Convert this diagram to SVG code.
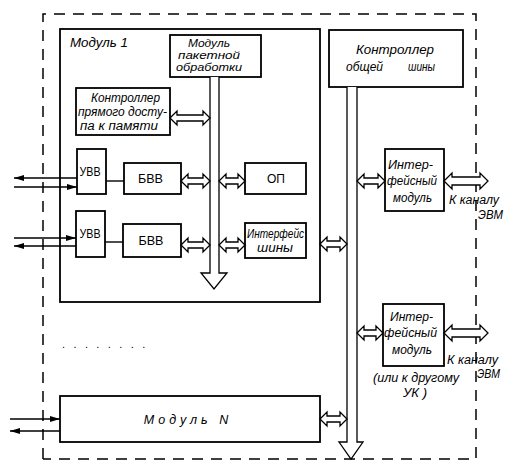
<svg xmlns="http://www.w3.org/2000/svg" width="514" height="468" viewBox="0 0 514 468">
<defs>
<marker id="ah" viewBox="0 0 10 6" refX="10" refY="3" markerWidth="10" markerHeight="6" markerUnits="userSpaceOnUse" orient="auto"><path d="M0,0 L10,3 L0,6 Z" fill="#000"/></marker>
<style>
.b{fill:#fff;stroke:#000;stroke-width:1.8}
.d{fill:#fff;stroke:#000;stroke-width:1.3;stroke-linejoin:miter}
.l{fill:none;stroke:#000;stroke-width:1.4}
.t{font-family:"Liberation Sans","DejaVu Sans",sans-serif;font-style:italic;font-size:12.5px;fill:#000;text-anchor:middle}
.s{font-size:10.5px}
.m{font-size:12px}
.u{font-family:"Liberation Sans","DejaVu Sans",sans-serif;font-size:12px;fill:#000;text-anchor:middle}
</style>
</defs>
<rect width="514" height="468" fill="#fff"/>
<g id="outer">
<path d="M43,459 L43,14 L476,14 L476,459 L43,459" fill="none" stroke="#000" stroke-width="1.5" stroke-dasharray="11,8"/>
</g>
<g id="module1">
<rect class="b" x="60" y="29" width="260" height="273"/>
<text class="t" x="99" y="47" textLength="58" lengthAdjust="spacingAndGlyphs">Модуль 1</text>
</g>
<g id="packet">
<rect class="b" x="170" y="35" width="91" height="42"/>
<text class="t s" x="209" y="47" textLength="42" lengthAdjust="spacingAndGlyphs">Модуль</text>
<text class="t s" x="209" y="59" textLength="62" lengthAdjust="spacingAndGlyphs">пакетной</text>
<text class="t s" x="209" y="71" textLength="66" lengthAdjust="spacingAndGlyphs">обработки</text>
</g>
<g id="dma">
<rect class="b" x="76" y="88" width="94" height="47"/>
<text class="t m" x="125.5" y="101.5" textLength="69" lengthAdjust="spacingAndGlyphs">Контроллер</text>
<text class="t m" x="122.5" y="116" textLength="89" lengthAdjust="spacingAndGlyphs">прямого досту-</text>
<text class="t m" x="119" y="130" textLength="78" lengthAdjust="spacingAndGlyphs">па к памяти</text>
</g>
<g id="uvv1"><rect class="b" x="77" y="149" width="29" height="45"/><text class="u" x="90" y="176" textLength="21" lengthAdjust="spacingAndGlyphs">УВВ</text></g>
<g id="bvv1"><rect class="b" x="124" y="163" width="57" height="31"/><text class="u" x="150.5" y="183" textLength="25" lengthAdjust="spacingAndGlyphs">БВВ</text></g>
<g id="op"><rect class="b" x="245" y="163" width="61" height="31"/><text class="u" x="276" y="183" textLength="18" lengthAdjust="spacingAndGlyphs">ОП</text></g>
<g id="uvv2"><rect class="b" x="76" y="211" width="29" height="46"/><text class="u" x="90" y="238" textLength="21" lengthAdjust="spacingAndGlyphs">УВВ</text></g>
<g id="bvv2"><rect class="b" x="123" y="224" width="58" height="33"/><text class="u" x="151" y="245" textLength="25" lengthAdjust="spacingAndGlyphs">БВВ</text></g>
<g id="busif"><rect class="b" x="245" y="223" width="61" height="35"/>
<text class="t m" x="275.5" y="237.5" textLength="57" lengthAdjust="spacingAndGlyphs">Интерфейс</text><text class="t m" x="275" y="252" textLength="36" lengthAdjust="spacingAndGlyphs">шины</text></g>
<g id="bus-ctrl">
<rect class="b" x="329" y="30" width="134" height="57"/>
<text class="t" x="395" y="54" textLength="78" lengthAdjust="spacingAndGlyphs">Контроллер</text>
<text class="t" x="364.5" y="71" textLength="37" lengthAdjust="spacingAndGlyphs">общей</text><text class="t" x="421.5" y="71" textLength="27" lengthAdjust="spacingAndGlyphs">шины</text>
</g>
<g id="if1">
<rect class="b" x="385" y="149" width="59" height="62"/>
<text class="t" x="410.5" y="169" textLength="45" lengthAdjust="spacingAndGlyphs">Интер-</text>
<text class="t" x="412" y="185" textLength="50" lengthAdjust="spacingAndGlyphs">фейсный</text>
<text class="t" x="412.5" y="202" textLength="39" lengthAdjust="spacingAndGlyphs">модуль</text>
</g>
<g id="if2">
<rect class="b" x="383" y="304" width="61" height="62"/>
<text class="t" x="411.5" y="321" textLength="43" lengthAdjust="spacingAndGlyphs">Интер-</text>
<text class="t" x="410.5" y="337" textLength="53" lengthAdjust="spacingAndGlyphs">фейсный</text>
<text class="t" x="412" y="354" textLength="40" lengthAdjust="spacingAndGlyphs">модуль</text>
</g>
<g id="moduleN">
<rect class="b" x="60" y="396" width="260" height="46"/>
<text class="t" x="188" y="424" style="font-size:12.5px;letter-spacing:4px">Модуль N</text>
</g>
<g id="labels">
<text class="t" x="474" y="204" textLength="50" lengthAdjust="spacingAndGlyphs">К каналу</text>
<text class="t" x="490.5" y="219" textLength="25" lengthAdjust="spacingAndGlyphs">ЭВМ</text>
<text class="t m" x="472.5" y="364" textLength="51" lengthAdjust="spacingAndGlyphs">К каналу</text>
<text class="t m" x="488.5" y="378" textLength="23" lengthAdjust="spacingAndGlyphs">ЭВМ</text>
<text class="t" x="416" y="382" textLength="86" lengthAdjust="spacingAndGlyphs">(или к другому</text>
<text class="t" x="415" y="397" textLength="24" lengthAdjust="spacingAndGlyphs">УК )</text>
<text x="62" y="348" style="font-family:'Liberation Sans',sans-serif;font-size:11px;letter-spacing:8.4px">........</text>
</g>
<g id="connectors">
<path class="d" d="M210,77 L210,273 L201,273 L214,289 L227,273 L219,273 L219,77"/>
<path class="d" d="M347,87 L347,442 L339,442 L351,459 L363,442 L357,442 L357,87"/>
<path class="d" d="M170,118 L177,111 L177,115 L203,115 L203,111 L210,118 L203,125 L203,121 L177,121 L177,125 Z"/>
<path class="d" d="M181,181 L188,174 L188,178 L203,178 L203,174 L210,181 L203,188 L203,184 L188,184 L188,188 Z"/>
<path class="d" d="M219,181 L226,174 L226,178 L238,178 L238,174 L245,181 L238,188 L238,184 L226,184 L226,188 Z"/>
<path class="d" d="M181,245 L188,238 L188,242 L203,242 L203,238 L210,245 L203,252 L203,248 L188,248 L188,252 Z"/>
<path class="d" d="M219,245 L226,238 L226,242 L238,242 L238,238 L245,245 L238,252 L238,248 L226,248 L226,252 Z"/>
<path class="d" d="M320,244 L327,237 L327,241 L340,241 L340,237 L347,244 L340,251 L340,247 L327,247 L327,251 Z"/>
<path class="d" d="M320,419 L327,412 L327,416 L340,416 L340,412 L347,419 L340,426 L340,422 L327,422 L327,426 Z"/>
<path class="d" d="M357,181 L364,174 L364,178 L378,178 L378,174 L385,181 L378,188 L378,184 L364,184 L364,188 Z"/>
<path class="d" d="M444,181 L452,173 L452,177 L480,177 L480,173 L488,181 L480,189 L480,185 L452,185 L452,189 Z"/>
<path class="d" d="M357,333 L364,326 L364,330 L376,330 L376,326 L383,333 L376,340 L376,336 L364,336 L364,340 Z"/>
<path class="d" d="M444,333 L452,325 L452,329 L480,329 L480,325 L488,333 L480,341 L480,337 L452,337 L452,341 Z"/>
<line class="l" x1="106" y1="181" x2="124" y2="181"/>
<line class="l" x1="105" y1="242" x2="123" y2="242"/>
<line class="l" x1="77" y1="178" x2="14" y2="178" marker-end="url(#ah)"/>
<line class="l" x1="14" y1="187" x2="77" y2="187" marker-end="url(#ah)"/>
<line class="l" x1="14" y1="238" x2="76" y2="238" marker-end="url(#ah)"/>
<line class="l" x1="76" y1="246" x2="14" y2="246" marker-end="url(#ah)"/>
<line class="l" x1="10" y1="419" x2="60" y2="419" marker-end="url(#ah)"/>
<line class="l" x1="60" y1="431" x2="10" y2="431" marker-end="url(#ah)"/>
</g>
</svg>
